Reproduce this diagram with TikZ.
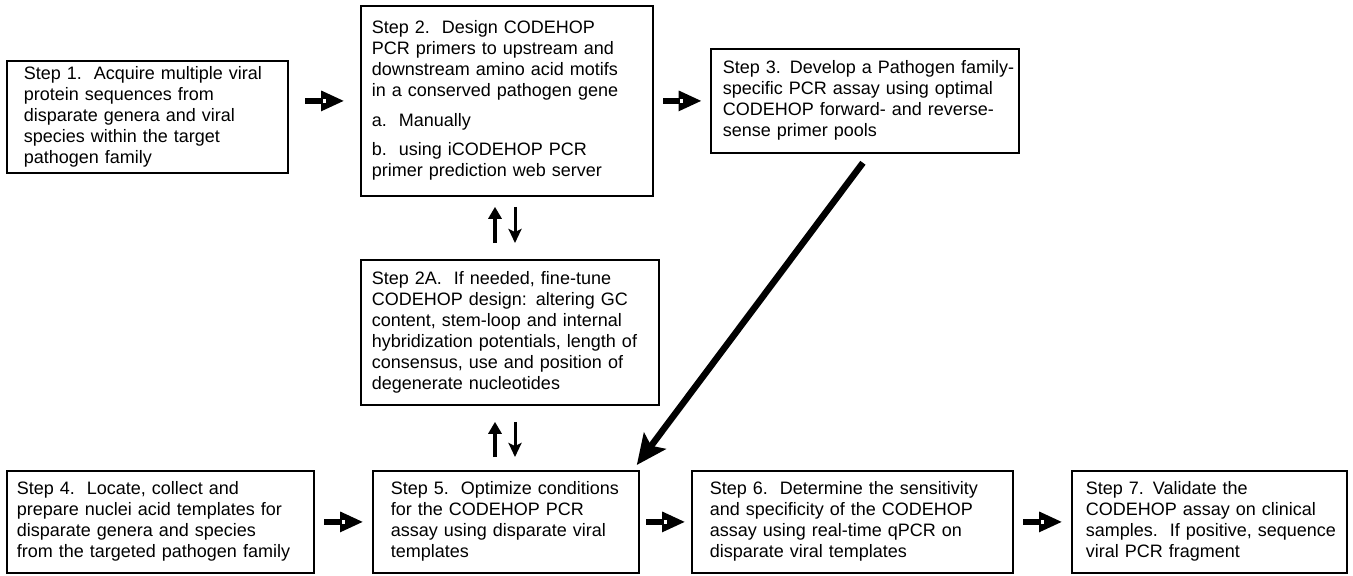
\documentclass[tikz,border=0pt]{standalone}
\usepackage{fontspec}
\setmainfont{Liberation Sans}
\usetikzlibrary{arrows.meta,calc}
\begin{document}
\begin{tikzpicture}[x=1pt,y=-1pt,
  box/.style={draw, line width=1.8pt, align=left, anchor=north west, inner ysep=0pt,
    font=\fontsize{18}{21}\selectfont},
  barrow/.pic={
    \fill (-19.2,-3.4) rectangle (-0.8,3.4);
    \fill (-3.2,-10.4) -- (19.2,0) -- (-3.2,10.4) -- cycle;
    \fill[white] (-1.8,-1.7) rectangle (1.5,1.7);
  },
  uparr/.style={line width=4.5pt, -{Triangle[length=12pt,width=13pt]}},
  dnarr/.style={line width=3pt, -{Stealth[length=14pt,width=13pt,inset=3pt]}},
  diag/.style={line width=6.5pt, -{Stealth[length=30pt,width=27pt,inset=6pt]}}
]
\useasboundingbox (0,0) rectangle (1353,576);

\node[box, minimum width=281pt, minimum height=112pt, text width=247pt, inner xsep=17pt] (b1) at (6,60)
  {\begin{tabular}{@{}l@{}}Step 1.\ \ Acquire multiple viral\\ protein sequences from\\ disparate genera and viral\\ species within the target\\ pathogen family\end{tabular}};

\node[box, minimum width=292pt, minimum height=190pt, text width=270pt, inner xsep=11pt] (b2) at (360,5)
  {\begin{tabular}{@{}l@{}}Step 2.\ \ Design CODEHOP\\ PCR primers to upstream and\\ downstream amino acid motifs\\ in a conserved pathogen gene\\[9pt] a.\ \ Manually\\[8pt] b.\ \ using iCODEHOP PCR\\ primer prediction web server\end{tabular}};

\node[box, minimum width=308pt, minimum height=104pt, text width=284pt, inner xsep=12pt] (b3) at (710,48)
  {\begin{tabular}{@{}l@{}}Step 3. Develop a Pathogen family-\\ specific PCR assay using optimal\\ CODEHOP forward- and reverse-\\ sense primer pools\end{tabular}};

\node[box, minimum width=298pt, minimum height=145pt, text width=276pt, inner xsep=11pt] (b2a) at (360,259)
  {\begin{tabular}{@{}l@{}}Step 2A.\ \ If needed, fine-tune\\ CODEHOP design: altering GC\\ content, stem-loop and internal\\ hybridization potentials, length of\\ consensus, use and position of\\ degenerate nucleotides\end{tabular}};

\node[box, minimum width=307pt, minimum height=102pt, text width=287pt, inner xsep=10pt] (b4) at (6,470)
  {\begin{tabular}{@{}l@{}}Step 4.\ \ Locate, collect and\\ prepare nuclei acid templates for\\ disparate genera and species\\ from the targeted pathogen family\end{tabular}};

\node[box, minimum width=266pt, minimum height=102pt, text width=230pt, inner xsep=18pt] (b5) at (372,470)
  {\begin{tabular}{@{}l@{}}Step 5.\ \ Optimize conditions\\ for the CODEHOP PCR\\ assay using disparate viral\\ templates\end{tabular}};

\node[box, minimum width=321pt, minimum height=102pt, text width=285pt, inner xsep=18pt] (b6) at (691,470)
  {\begin{tabular}{@{}l@{}}Step 6.\ \ Determine the sensitivity\\ and specificity of the CODEHOP\\ assay using real-time qPCR on\\ disparate viral templates\end{tabular}};

\node[box, minimum width=275pt, minimum height=102pt, text width=247pt, inner xsep=14pt] (b7) at (1071,470)
  {\begin{tabular}{@{}l@{}}Step 7. Validate the\\ CODEHOP assay on clinical\\ samples.\ \ If positive, sequence\\ viral PCR fragment\end{tabular}};

% block arrows
\pic at ($(b1.east |- b2.west)!0.5!(b2.west)$) {barrow};
\pic at ($(b2.east |- b3.west)!0.5!(b3.west)$) {barrow};
\pic at ($(b4.east)!0.5!(b5.west)$) {barrow};
\pic at ($(b5.east)!0.5!(b6.west)$) {barrow};
\pic at ($(b6.east)!0.5!(b7.west)$) {barrow};

% up/down arrows
\coordinate (ux) at (495,0);
\coordinate (dx) at (515,0);
\draw[uparr] ($(b2a.north -| ux)+(0,-16)$) -- ($(b2.south -| ux)+(0,10)$);
\draw[dnarr] ($(b2.south -| dx)+(0,10)$) -- ($(b2a.north -| dx)+(0,-16)$);
\draw[uparr] ($(b5.north -| ux)+(0,-13)$) -- ($(b2a.south -| ux)+(0,16)$);
\draw[dnarr] ($(b2a.south -| dx)+(0,16)$) -- ($(b5.north -| dx)+(0,-13)$);

% diagonal arrow
\coordinate (dstart) at ($(b3.south)+(-2,9)$);
\draw[diag] (dstart) -- ($(b5.north east)+(-3,-5)$);
\end{tikzpicture}
\end{document}
